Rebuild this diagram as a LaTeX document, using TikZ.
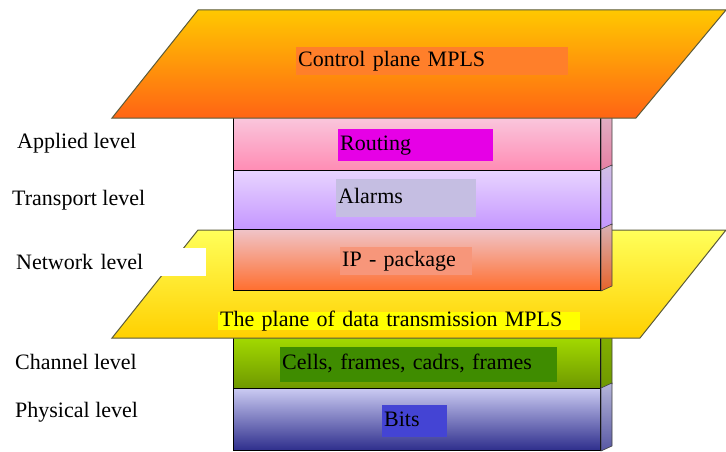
\documentclass[tikz,border=0pt]{standalone}
\usepackage{fontspec}
\setmainfont{Liberation Serif}
\usepackage{tikz}
\usetikzlibrary{positioning}
\definecolor{ctrltop}{HTML}{FFC800}
\definecolor{ctrlbot}{HTML}{FF6414}
\definecolor{ctrlhl}{HTML}{FF7F2A}
\definecolor{routetop}{HTML}{F9CCE0}
\definecolor{routebot}{HTML}{FF8CB4}
\definecolor{routehl}{HTML}{E600E6}
\definecolor{alarmtop}{HTML}{E8D4FF}
\definecolor{alarmbot}{HTML}{C496FF}
\definecolor{alarmhl}{HTML}{C5BEE2}
\definecolor{iptop}{HTML}{F0C4C8}
\definecolor{ipbot}{HTML}{FF6E2E}
\definecolor{iphl}{HTML}{F7967A}
\definecolor{datatop}{HTML}{FFFF5A}
\definecolor{databot}{HTML}{FFD000}
\definecolor{datahl}{HTML}{FFFF00}
\definecolor{chantop}{HTML}{A8E000}
\definecolor{chanbot}{HTML}{6E9800}
\definecolor{chanhl}{HTML}{3F8C00}
\definecolor{phystop}{HTML}{CACAF2}
\definecolor{physbot}{HTML}{2E2E8C}
\definecolor{physhl}{HTML}{4444D4}
\definecolor{planeline}{HTML}{5A5A3A}

\begin{document}
\begin{tikzpicture}[x=1pt, y=-1pt,
    every node/.style={font=\fontsize{22}{24}\selectfont, text=black},
    layer/.style={draw=black, line width=1pt, minimum width=367pt, inner sep=0pt, anchor=north west},
    side/.style={draw=black!75, line width=0.6pt},
    plane/.style={draw=planeline, line width=1pt},
    hl/.style={anchor=north west, inner xsep=2pt, inner ysep=0pt, text height=14pt, text depth=4pt, align=left},
    lbl/.style={anchor=west, inner sep=0pt}]
    \useasboundingbox (0,0) rectangle (726,452);

    % Lower layers (under the data plane)
    \node[layer, minimum height=56pt, top color=chantop, bottom color=chanbot] (channel) at (233,332) {};
    \node[layer, minimum height=62pt, top color=phystop, bottom color=physbot] (physical) at (233,388) {};
    \shade[side, top color=chantop!80!black, bottom color=chanbot] (channel.north east) -- ++(11,-5) -- ([shift={(11,-5)}]channel.south east) -- (channel.south east) -- cycle;
    \shade[side, top color=phystop!90!black, bottom color=physbot!80] (physical.north east) -- ++(11,-5) -- ([shift={(11,-5)}]physical.south east) -- (physical.south east) -- cycle;

    % Data transmission plane
    \shade[plane, top color=datatop, bottom color=databot] (198,230) -- (726,230) -- (640,338) -- (112,338) -- cycle;
    \node[hl, fill=datahl, minimum height=18pt, text width=358pt] (datatext) at (218,312) {The plane of data transmission MPLS};

    % Upper layers
    \node[layer, minimum height=58pt, top color=routetop, bottom color=routebot] (routing) at (233,112) {};
    \node[layer, minimum height=59pt, top color=alarmtop, bottom color=alarmbot] (alarms) at (233,170) {};
    \node[layer, minimum height=61pt, top color=iptop, bottom color=ipbot] (ip) at (233,229) {};
    \shade[side, top color=routetop!90!black, bottom color=routebot!90!black] (routing.north east) -- ++(11,-5) -- ([shift={(11,-5)}]routing.south east) -- (routing.south east) -- cycle;
    \shade[side, top color=alarmtop!90!black, bottom color=alarmbot] (alarms.north east) -- ++(11,-5) -- ([shift={(11,-5)}]alarms.south east) -- (alarms.south east) -- cycle;
    \shade[side, top color=iptop!90!black, bottom color=ipbot!90!black] (ip.north east) -- ++(11,-5) -- ([shift={(11,-5)}]ip.south east) -- (ip.south east) -- cycle;

    % Texts of the layers
    \node[hl, fill=routehl, minimum height=32pt, text width=151pt] (routingtext) at (338,129) {Routing};
    \node[hl, fill=alarmhl, minimum height=38pt, text width=136pt] (alarmstext) at (336,179) {Alarms};
    \node[hl, fill=iphl, minimum height=28pt, text width=128pt] (iptext) at (340,247) {IP - package};
    \node[hl, fill=chanhl, minimum height=35pt, text width=273pt] (channeltext) at (280,347) {Cells, frames, cadrs, frames};
    \node[hl, fill=physhl, minimum height=32pt, text width=61pt] (physicaltext) at (382,405) {Bits};

    % Control plane
    \shade[plane, top color=ctrltop, bottom color=ctrlbot] (198,10) -- (726,10) -- (636,118) -- (112,118) -- cycle;
    \node[hl, fill=ctrlhl, minimum height=28pt, text width=268pt] (ctrltext) at (296,47) {Control plane MPLS};

    % Level names
    \node[lbl] (appliedlbl) at (17,143) {Applied level};
    \node[lbl] (transportlbl) at (12,200) {Transport level};
    \node[lbl, fill=white, minimum height=28pt, text width=190pt, align=left] (networklbl) at (16,262) {Network level};
    \node[lbl] (channellbl) at (15,362) {Channel level};
    \node[lbl] (physicallbl) at (15,412) {Physical level};
\end{tikzpicture}
\end{document}
